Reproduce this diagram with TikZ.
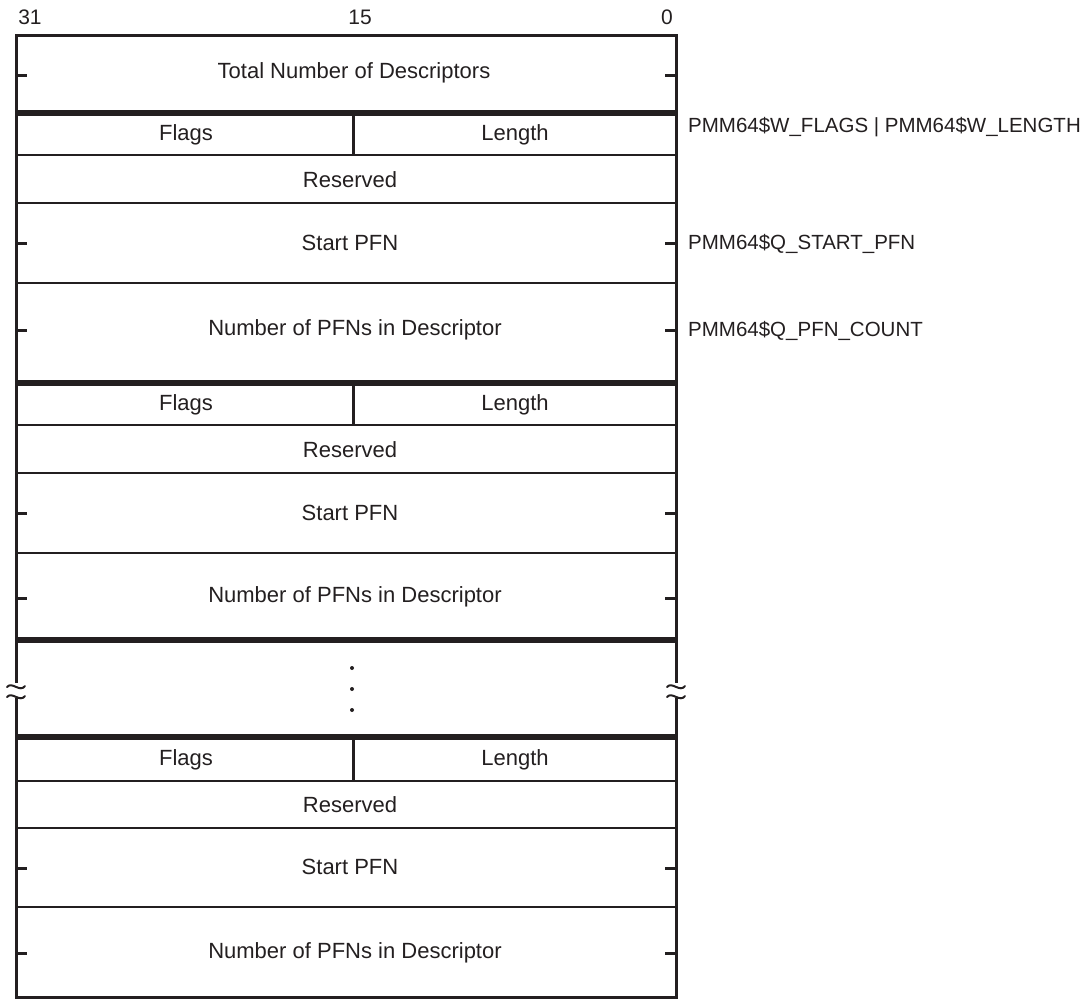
\documentclass[tikz,border=0pt]{standalone}
\usepackage{fontspec}
\setmainfont{Liberation Sans}
\definecolor{ink}{HTML}{231F20}
\begin{document}
\begin{tikzpicture}[x=1pt,y=-1pt,
  lbl/.style={text=ink,font=\fontsize{22}{26}\selectfont,inner sep=0pt},
  side/.style={text=ink,font=\fontsize{20.5}{24}\selectfont,inner sep=0pt,anchor=west},
  bit/.style={text=ink,font=\fontsize{21}{25}\selectfont,inner sep=0pt},
  frame/.style={draw=ink,line width=3pt},
  thickrule/.style={draw=ink,line width=6pt},
  thinrule/.style={draw=ink,line width=2.5pt},
  tick/.style={draw=ink,line width=3pt},
  brk/.style={draw=ink,line width=2pt,line cap=round}]
\useasboundingbox (0,0) rectangle (1081,999);
% bit numbers
\node[bit] (b31) at (30,17) {31};
\node[bit] (b15) at (360,17) {15};
\node[bit] (b0) at (667,17) {0};
% outer frame with breaks
\draw[frame] (16,683) -- (16,35) -- (676,35) -- (676,683);
\draw[frame] (16,698) -- (16,997) -- (676,997) -- (676,698);
% break marks
\foreach \bx in {16,676}{
  \draw[brk] (\bx-9,687) .. controls (\bx-4,681) and (\bx+4,693) .. (\bx+9,686);
  \draw[brk] (\bx-9,697) .. controls (\bx-4,691) and (\bx+4,703) .. (\bx+9,696);
}
% thick rules
\foreach \yy in {113,383,640,737}{\draw[thickrule] (16,\yy) -- (676,\yy);}
% thin rules
\foreach \yy in {155,203,283,425,473,553,781,828,907}{\draw[thinrule] (16,\yy) -- (676,\yy);}
% middle dividers
\draw[frame] (353,116) -- (353,155);
\draw[frame] (353,386) -- (353,425);
\draw[frame] (353,740) -- (353,781);
% ticks
\foreach \yy in {75,243,330,513,598,868,953}{
  \draw[tick] (16,\yy) -- (27,\yy);
  \draw[tick] (665,\yy) -- (676,\yy);
}
% labels
\node[lbl] (tot) at (354,73) {Total Number of Descriptors};
\node[lbl] (fl1) at (186,135) {Flags};
\node[lbl] (le1) at (515,135) {Length};
\node[lbl] (re1) at (350,180) {Reserved};
\node[lbl] (st1) at (350,243) {Start PFN};
\node[lbl] (nu1) at (355,330) {Number of PFNs in Descriptor};
\node[lbl] (fl2) at (186,405) {Flags};
\node[lbl] (le2) at (515,405) {Length};
\node[lbl] (re2) at (350,450) {Reserved};
\node[lbl] (st2) at (350,513) {Start PFN};
\node[lbl] (nu2) at (355,597) {Number of PFNs in Descriptor};
\node[lbl] (fl3) at (186,760) {Flags};
\node[lbl] (le3) at (515,760) {Length};
\node[lbl] (re3) at (350,805) {Reserved};
\node[lbl] (st3) at (350,867) {Start PFN};
\node[lbl] (nu3) at (355,953) {Number of PFNs in Descriptor};
% dots
\foreach \yy/\nm in {668/d1,689/d2,710/d3}{\node[circle,fill=ink,inner sep=0pt,minimum size=4pt] (\nm) at (352,\yy) {};}
% side labels
\node[side] (s1) at (688,127) {PMM64\$W\_FLAGS | PMM64\$W\_LENGTH};
\node[side] (s2) at (688,244) {PMM64\$Q\_START\_PFN};
\node[side] (s3) at (688,331) {PMM64\$Q\_PFN\_COUNT};
\end{tikzpicture}
\end{document}
